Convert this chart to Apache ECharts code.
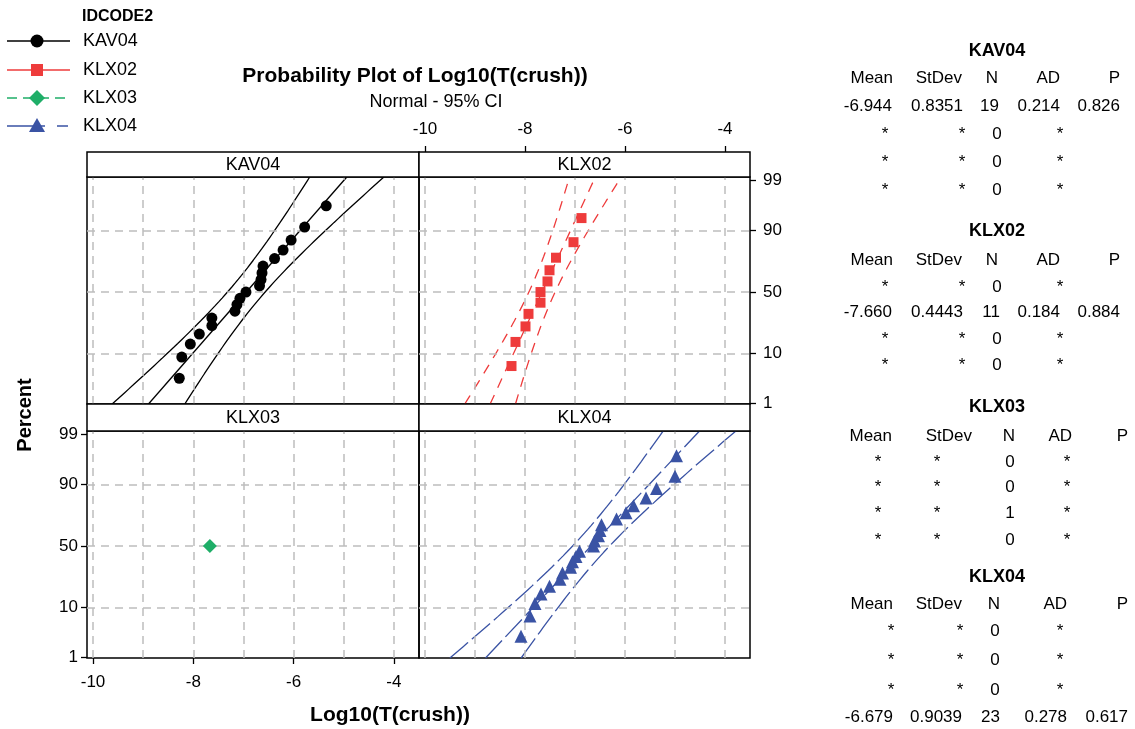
<!DOCTYPE html>
<html>
<head>
<meta charset="utf-8">
<title>Probability Plot of Log10(T(crush))</title>
<script src="https://cdn.jsdelivr.net/npm/echarts@6/dist/echarts.min.js"></script>
<style>
  html, body { margin: 0; padding: 0; background: #ffffff; }
  #chart { width: 1135px; height: 729px; }
</style>
</head>
<body>
<div id="chart"></div>
<script>
// ---- data -------------------------------------------------------------
const groups = ['KAV04', 'KLX02', 'KLX03', 'KLX04'];

// sorted Log10(T(crush)) observations and their plotting positions (%)
const kav04 = [-8.28, -8.23, -8.06, -7.88, -7.63, -7.63, -7.17, -7.13, -7.07, -6.95,
               -6.68, -6.65, -6.63, -6.61, -6.38, -6.21, -6.05, -5.78, -5.35];
const kav04Pct = [3.61, 8.76, 13.92, 19.07, 24.23, 29.38, 34.54, 39.69, 44.85, 50.00,
                  55.15, 60.31, 65.46, 70.62, 75.77, 80.93, 86.08, 91.24, 96.39];

const klx02 = [-8.27, -8.19, -7.99, -7.93, -7.69, -7.69, -7.55, -7.51, -7.38, -7.03, -6.87];
const klx02Pct = [6.14, 14.91, 23.68, 32.46, 41.23, 50.00, 58.77, 67.54, 76.32, 85.09, 93.86];

const klx03 = [-7.67];
const klx03Pct = [50.00];

const klx04 = [-8.08, -7.90, -7.80, -7.68, -7.51, -7.30, -7.25, -7.09, -7.05, -6.98, -6.91, -6.63,
               -6.61, -6.53, -6.50, -6.47, -6.17, -5.98, -5.83, -5.58, -5.37, -5.00, -4.97];
const klx04Pct = [2.99, 7.26, 11.54, 15.81, 20.09, 24.36, 28.63, 32.91, 37.18, 41.45, 45.73, 50.00,
                  54.27, 58.55, 62.82, 67.09, 71.37, 75.64, 79.91, 84.19, 88.46, 92.74, 97.01];

// summary statistics per group (null = not estimable)
const means   = [-6.944, -7.660, null, -6.679];
const stdevs  = [0.8351, 0.4443, null, 0.9039];
const counts  = [19, 11, 1, 23];
const adStats = [0.214, 0.184, null, 0.278];
const pValues = [0.826, 0.884, null, 0.617];

// axes
const xTicks = [-10, -8, -6, -4];
const xGrid = [-10, -9, -8, -7, -6, -5, -4];
const pctTicks = [1, 10, 50, 90, 99];
const pctGrid = [10, 50, 90];

// ---- helpers ----------------------------------------------------------
// inverse standard normal CDF (Acklam)
function normInv(p) {
  const a = [-3.969683028665376e+01, 2.209460984245205e+02, -2.759285104469687e+02,
             1.383577518672690e+02, -3.066479806614716e+01, 2.506628277459239e+00];
  const b = [-5.447609879822406e+01, 1.615858368580409e+02, -1.556989798598866e+02,
             6.680131188771972e+01, -1.328068155288572e+01];
  const c = [-7.784894002430293e-03, -3.223964580411365e-01, -2.400758277161838e+00,
             -2.549732539343734e+00, 4.374664141464968e+00, 2.938163982698783e+00];
  const d = [7.784695709041462e-03, 3.224671290700398e-01, 2.445134137142996e+00,
             3.754408661907416e+00];
  const pl = 0.02425, ph = 1 - pl;
  let q, r;
  if (p < pl) {
    q = Math.sqrt(-2 * Math.log(p));
    return (((((c[0]*q + c[1])*q + c[2])*q + c[3])*q + c[4])*q + c[5]) /
           ((((d[0]*q + d[1])*q + d[2])*q + d[3])*q + 1);
  }
  if (p <= ph) {
    q = p - 0.5; r = q * q;
    return (((((a[0]*r + a[1])*r + a[2])*r + a[3])*r + a[4])*r + a[5]) * q /
           (((((b[0]*r + b[1])*r + b[2])*r + b[3])*r + b[4])*r + 1);
  }
  q = Math.sqrt(-2 * Math.log(1 - p));
  return -(((((c[0]*q + c[1])*q + c[2])*q + c[3])*q + c[4])*q + c[5]) /
          ((((d[0]*q + d[1])*q + d[2])*q + d[3])*q + 1);
}

const FONT = '"Liberation Sans", Arial, sans-serif';
// percent scale expressed in standard-normal units
const Z_MIN = -2.335, Z_MAX = 2.40;
const zTicks = pctTicks.map(p => normInv(p / 100));
const X_MIN = -10.12, X_MAX = -3.5;

function pctLabel(v) {
  for (let i = 0; i < zTicks.length; i++) {
    if (Math.abs(zTicks[i] - v) < 1e-6) return String(pctTicks[i]);
  }
  return '';
}

const panels = [
  { x: kav04, pct: kav04Pct, color: '#000000', symbol: 'circle',   size: 11, dash: 'solid' },
  { x: klx02, pct: klx02Pct, color: '#EE3B3B', symbol: 'rect',     size: 10, dash: [10, 8] },
  { x: klx03, pct: klx03Pct, color: '#1FAE68', symbol: 'diamond',  size: 14, dash: [10, 6] },
  { x: klx04, pct: klx04Pct, color: '#3A53A4', symbol: 'triangle', size: 13, dash: [24, 5] }
];

const boxes = [
  { left: 87,  top: 177, width: 332, height: 227 },
  { left: 419, top: 177, width: 331, height: 227 },
  { left: 87,  top: 431, width: 332, height: 227 },
  { left: 419, top: 431, width: 331, height: 227 }
];
const strips = [
  { x: 87,  y: 152, w: 332, h: 25 },
  { x: 419, y: 152, w: 331, h: 25 },
  { x: 87,  y: 404, w: 332, h: 27 },
  { x: 419, y: 404, w: 331, h: 27 }
];

// ---- axes -------------------------------------------------------------
const grids = boxes.map(b => ({
  left: b.left, top: b.top, width: b.width, height: b.height,
  show: true, borderColor: '#000', borderWidth: 1.5, backgroundColor: 'transparent'
}));

const xAxes = boxes.map((b, i) => {
  const shown = (i === 1 || i === 2);
  return {
    gridIndex: i, type: 'value', min: X_MIN, max: X_MAX,
    position: i === 1 ? 'top' : 'bottom',
    offset: i === 1 ? 25 : 0,
    axisLine: { show: false, onZero: false },
    splitLine: { show: false },
    axisTick: { show: shown, customValues: xTicks, length: 6, lineStyle: { color: '#000', width: 1.3 } },
    axisLabel: { show: shown, customValues: xTicks, color: '#000', fontSize: 17,
                 fontFamily: FONT, margin: i === 1 ? 14 : 16 }
  };
});

const yAxes = boxes.map((b, i) => {
  const shown = (i === 1 || i === 2);
  return {
    gridIndex: i, type: 'value', min: Z_MIN, max: Z_MAX,
    position: i === 1 ? 'right' : 'left',
    axisLine: { show: false, onZero: false },
    splitLine: { show: false },
    axisTick: { show: shown, customValues: zTicks, length: 6, lineStyle: { color: '#000', width: 1.3 } },
    axisLabel: { show: shown, customValues: zTicks, formatter: pctLabel, color: '#000',
                 fontSize: 17, fontFamily: FONT, margin: i === 1 ? 13 : 9 }
  };
});

// ---- series -----------------------------------------------------------
const series = [];
const zSteps = 60;

panels.forEach((p, g) => {
  // reference grid
  series.push({
    type: 'line', xAxisIndex: g, yAxisIndex: g, data: [], silent: true, z: 1,
    markLine: {
      silent: true, symbol: ['none', 'none'], animation: false,
      label: { show: false },
      emphasis: { disabled: true },
      lineStyle: { color: '#BDBDBD', type: [8, 6], width: 1.5 },
      data: xGrid.map(v => ({ xAxis: v })).concat(pctGrid.map(q => ({ yAxis: normInv(q / 100) })))
    }
  });

  const m = means[g], s = stdevs[g], n = counts[g];
  if (m !== null && s !== null) {
    const lineStyle = { color: p.color, width: 1.3, type: p.dash };
    // fitted normal percentile line
    series.push({
      type: 'line', xAxisIndex: g, yAxisIndex: g, showSymbol: false, silent: true, z: 3,
      lineStyle, clip: true,
      data: [[m + s * Z_MIN, Z_MIN], [m + s * Z_MAX, Z_MAX]]
    });
    // 95% confidence bounds on the percentiles
    [-1, 1].forEach(sign => {
      const pts = [];
      for (let k = 0; k <= zSteps; k++) {
        const z = Z_MIN + (Z_MAX - Z_MIN) * k / zSteps;
        const half = 1.96 * s * Math.sqrt((1 + z * z / 2) / n);
        pts.push([m + s * z + sign * half, z]);
      }
      series.push({
        type: 'line', xAxisIndex: g, yAxisIndex: g, showSymbol: false, silent: true, z: 3,
        smooth: false, lineStyle, clip: true, data: pts
      });
    });
  }

  series.push({
    name: groups[g], type: 'scatter', xAxisIndex: g, yAxisIndex: g, z: 5,
    symbol: p.symbol, symbolSize: p.size,
    itemStyle: { color: p.color, opacity: 1 },
    data: p.x.map((v, i) => [v, normInv(p.pct[i] / 100)])
  });
});

// ---- texts, strips, legend, statistics table --------------------------
function txt(text, x, y, size, opts) {
  opts = opts || {};
  const align = opts.align || 'center';
  return {
    type: 'text', x, y, rotation: opts.rotation || 0, z: 10, silent: true,
    style: {
      text, fill: '#000',
      font: (opts.bold ? 'bold ' : '') + size + 'px ' + FONT,
      align, textAlign: align, verticalAlign: 'middle', textVerticalAlign: 'middle'
    }
  };
}

const graphic = [];
graphic.push(txt('Probability Plot of Log10(T(crush))', 415, 76, 21, { bold: true }));
graphic.push(txt('Normal - 95% CI', 436, 102, 18));
graphic.push(txt('Log10(T(crush))', 390, 715, 21, { bold: true }));
graphic.push(txt('Percent', 25, 415, 20, { bold: true, rotation: Math.PI / 2 }));

// panel strips
strips.forEach((s, g) => {
  graphic.push({
    type: 'rect', z: 8, silent: true,
    shape: { x: s.x, y: s.y, width: s.w, height: s.h },
    style: { fill: '#fff', stroke: '#000', lineWidth: 1.5 }
  });
  graphic.push(txt(groups[g], s.x + s.w / 2, s.y + s.h / 2 + 1, 18));
});

// legend
graphic.push(txt('IDCODE2', 82, 17, 16, { bold: true, align: 'left' }));
const legendY = [41, 70, 98, 126];
const legendDash = ['solid', 'solid', [10, 6], [38, 12, 11, 20]];
panels.forEach((p, g) => {
  const y = legendY[g];
  graphic.push({
    type: 'line', z: 10, silent: true,
    shape: { x1: 7, y1: y, x2: 70, y2: y },
    style: { stroke: p.color, lineWidth: 1.6, lineDash: legendDash[g] === 'solid' ? null : legendDash[g] }
  });
  let sym;
  if (p.symbol === 'circle') {
    sym = { type: 'circle', shape: { cx: 37, cy: y, r: 6.5 } };
  } else if (p.symbol === 'rect') {
    sym = { type: 'rect', shape: { x: 31, y: y - 6, width: 12, height: 12 } };
  } else if (p.symbol === 'diamond') {
    sym = { type: 'polygon', shape: { points: [[37, y - 8], [45, y], [37, y + 8], [29, y]] } };
  } else {
    sym = { type: 'polygon', shape: { points: [[37, y - 8], [45, y + 6], [29, y + 6]] } };
  }
  sym.z = 11; sym.silent = true; sym.style = { fill: p.color };
  graphic.push(sym);
  graphic.push(txt(groups[g], 83, y, 18, { align: 'left' }));
});

// statistics tables
const tableLayout = [
  { titleY: 51,  headY: 78,  rowY: [106, 134, 162, 190],
    head: [893, 962, 998, 1060, 1120], val: [892, 963, 999, 1060, 1120], star: [885, 962, 997, 1060] },
  { titleY: 231, headY: 260, rowY: [287, 312, 339, 365],
    head: [893, 962, 998, 1060, 1120], val: [892, 963, 1000, 1060, 1120], star: [885, 962, 997, 1060] },
  { titleY: 407, headY: 436, rowY: [462, 487, 513, 540],
    head: [892, 972, 1015, 1072, 1128], val: [892, 972, 1015, 1072, 1128], star: [878, 937, 1010, 1067] },
  { titleY: 577, headY: 604, rowY: [631, 660, 690, 717],
    head: [893, 962, 1000, 1067, 1128], val: [893, 962, 1000, 1067, 1128], star: [891, 960, 995, 1060] }
];
const headers = ['Mean', 'StDev', 'N', 'AD', 'P'];

tableLayout.forEach((t, g) => {
  graphic.push(txt(groups[g], 997, t.titleY, 18, { bold: true }));
  headers.forEach((h, c) => graphic.push(txt(h, t.head[c], t.headY, 17, { align: 'right' })));
  t.rowY.forEach((y, r) => {
    if (r === g && means[r] !== null) {
      const vals = [means[r].toFixed(3), stdevs[r].toFixed(4), String(counts[r]),
                    adStats[r].toFixed(3), pValues[r].toFixed(3)];
      vals.forEach((v, c) => graphic.push(txt(v, t.val[c], y, 17, { align: 'right' })));
    } else {
      const nVal = r === g ? counts[r] : 0;
      graphic.push(txt('*', t.star[0], y, 17));
      graphic.push(txt('*', t.star[1], y, 17));
      graphic.push(txt(String(nVal), t.star[2], y, 17));
      graphic.push(txt('*', t.star[3], y, 17));
    }
  });
});

// ---- render -----------------------------------------------------------
const chart = echarts.init(document.getElementById('chart'), null, { renderer: 'canvas' });
chart.setOption({
  animation: false,
  backgroundColor: '#ffffff',
  textStyle: { fontFamily: FONT },
  grid: grids,
  xAxis: xAxes,
  yAxis: yAxes,
  series,
  graphic
});
</script>
</body>
</html>
